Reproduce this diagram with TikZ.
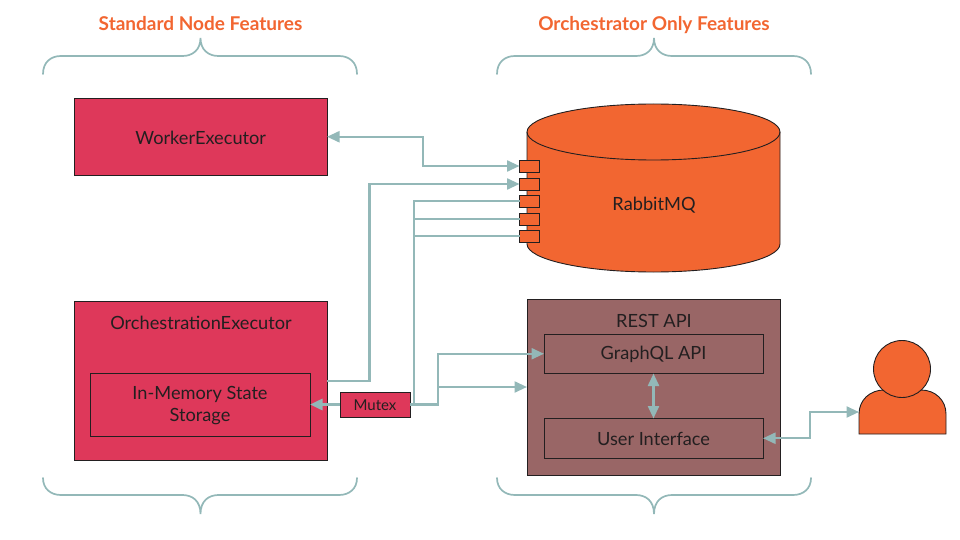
\documentclass[tikz,border=0pt]{standalone}
\usepackage{fontspec}
\setmainfont{Lato}
\usetikzlibrary{arrows.meta,calc,shapes.geometric}
\definecolor{crimson}{HTML}{DE385A}
\definecolor{orng}{HTML}{F26631}
\definecolor{mauve}{HTML}{996666}
\definecolor{conn}{HTML}{93B8B8}
\definecolor{ink}{HTML}{231F20}
\newcommand{\lowr}[2][1pt]{\raisebox{-#1}[\height][\depth]{#2}}
\tikzset{
  box/.style={draw=ink,line width=0.9pt,anchor=north west,inner sep=0pt,outer sep=0pt,text=ink,font=\fontsize{18.2}{22}\selectfont,align=center},
  redbox/.style={box,fill=crimson},
  mauvebox/.style={box,fill=mauve},
  portbox/.style={draw=ink,line width=0.9pt,fill=orng,anchor=north west,minimum width=19.5pt,minimum height=12pt,inner sep=0pt,outer sep=0pt},
  link/.style={draw=conn,line width=2.3pt},
  tip/.style={-{Triangle[length=12.5pt,width=11pt]}},
  twotips/.style={{Triangle[length=12.5pt,width=11pt]}-{Triangle[length=12.5pt,width=11pt]}},
  bracket/.style={draw=conn,line width=1.7pt,line cap=round},
  title/.style={text=orng,anchor=base,inner sep=0pt,font=\bfseries\fontsize{19}{22}\selectfont},
  plain/.style={text=ink,anchor=base,font=\fontsize{18.2}{22}\selectfont,inner sep=0pt},
}
\newcommand{\boxat}[6][redbox]{\node[#1,minimum width=#4pt,minimum height=#5pt] (#2) at (#3) {#6};}
\begin{document}
\begin{tikzpicture}[x=1pt,y=-1pt]
\useasboundingbox (0,0) rectangle (960,540);
\node[title] (t1) at (200.5,31) {Standard Node Features};
\node[title] (t2) at (654,31) {Orchestrator Only Features};
% braces
\foreach \a/\m/\b in {43/200.5/357,497/654/811}{
  \draw[bracket] (\a,74) .. controls (\a,62) and (\a+8,56) .. (\a+18,56) -- (\m-18,56) .. controls (\m-8,56) and (\m,50) .. (\m,38) .. controls (\m,50) and (\m+8,56) .. (\m+18,56) -- (\b-18,56) .. controls (\b-8,56) and (\b,62) .. (\b,74);
  \draw[bracket] (\a,478) .. controls (\a,489) and (\a+8,495) .. (\a+18,495) -- (\m-18,495) .. controls (\m-8,495) and (\m,501) .. (\m,514) .. controls (\m,501) and (\m+8,495) .. (\m+18,495) -- (\b-18,495) .. controls (\b-8,495) and (\b,489) .. (\b,478);
}
% left boxes
\boxat{worker}{74.5,98}{252.5}{77.5}{\lowr{WorkerExecutor}}
\boxat{orch}{74.5,301.5}{252.5}{158.5}{}
\node[plain] (orchl) at (201,329) {OrchestrationExecutor};
\boxat{mem}{90,373}{220}{63}{\lowr[1.5pt]{In-Memory State}\\\lowr[1.5pt]{Storage}}
\boxat{mutex}{340,392}{70}{25}{\fontsize{15}{16}\selectfont\lowr{Mutex}}
% cylinder
\path[fill=orng,draw=ink,line width=0.9pt] (527,132) arc[start angle=180,end angle=360,x radius=126.5,y radius=28] -- (780,244) arc[start angle=0,end angle=180,x radius=126.5,y radius=28] -- cycle;
\draw[draw=ink,line width=0.9pt] (527,132) arc[start angle=180,end angle=0,x radius=126.5,y radius=28];
\node[plain] (rabbit) at (654,210) {RabbitMQ};
\foreach \n/\y in {p1/160,p2/178,p3/195,p4/213,p5/230}{
  \node[portbox] (\n) at (519.5,\y) {};
}
% REST
\boxat[mauvebox]{rest}{527,299.5}{253}{175.5}{}
\node[plain] (restl) at (654,327) {REST API};
\boxat[mauvebox]{gql}{544,334}{219}{39.5}{\lowr{GraphQL API}}
\boxat[mauvebox]{ui}{544,418.5}{219}{39.5}{\lowr[0.5pt]{User Interface}}
% person
\path[fill=orng,draw=ink,line width=0.9pt] (859,434) -- (859,414) .. controls (859,400) and (870,390) .. (884,390) -- (921,390) .. controls (935,390) and (946,400) .. (946,414) -- (946,434) -- cycle;
\node[circle,draw=ink,line width=0.9pt,fill=orng,minimum size=57pt,inner sep=0pt] (head) at (902,369) {};
\coordinate (body) at (859,412);
% connectors
\coordinate (wbend) at (423,150);
\draw[link,twotips] (worker.east) -| (wbend) |- (p1.west);
\coordinate (oo) at (327,381);
\draw[link,tip] (oo) -| (369.5,280) |- (p2.west);
\coordinate (mr) at (mutex.east);
\coordinate (trunk) at (414,300);
\coordinate (fork) at (438,380);
\draw[link,tip,line width=3pt] (mutex.west) -- (mem.east);
\draw[link] (mr) -| (trunk) |- (p3.west);
\draw[link] (trunk |- p4.west) -- (p4.west);
\draw[link] (trunk |- p5.west) -- (p5.west);
\draw[link,tip] (mr) -| (fork) |- (gql.west);
\draw[link,tip] (fork |- 0,387) -- (rest.west |- 0,387);
\draw[link,twotips] (gql.south) -- (ui.north);
\coordinate (ubend) at (810,425);
\draw[link,twotips] (ui.east) -| (ubend) |- (body);
\end{tikzpicture}
\end{document}
